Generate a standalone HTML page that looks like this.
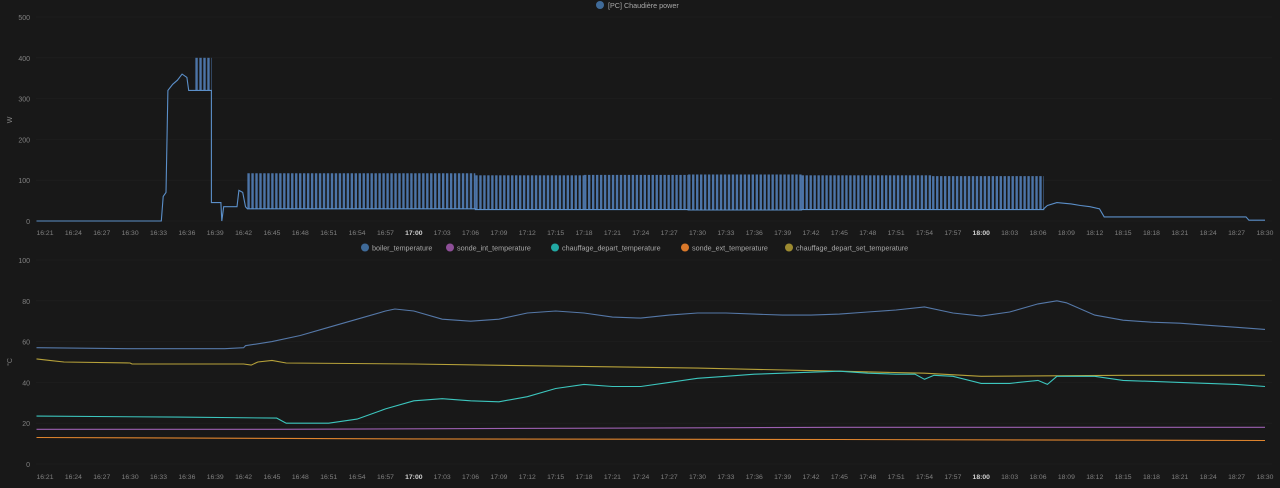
<!DOCTYPE html>
<html><head><meta charset="utf-8">
<style>
html,body{margin:0;padding:0;background:#181818;}
svg{display:block;font-family:"Liberation Sans",sans-serif;}
</style></head>
<body>
<svg id="c" width="1280" height="488" viewBox="0 0 1280 488" xmlns="http://www.w3.org/2000/svg">
<rect width="1280" height="488" fill="#181818"/>
</svg>
<script>
// ---- data ----
const tickLabels=["16:21","16:24","16:27","16:30","16:33","16:36","16:39","16:42","16:45","16:48","16:51","16:54","16:57","17:00","17:03","17:06","17:09","17:12","17:15","17:18","17:21","17:24","17:27","17:30","17:33","17:36","17:39","17:42","17:45","17:48","17:51","17:54","17:57","18:00","18:03","18:06","18:09","18:12","18:15","18:18","18:21","18:24","18:27","18:30"];
const powerTicks=[0,100,200,300,400,500];
const tempTicks=[0,20,40,60,80,100];
// power: [minute since 16:00, W] step points
const powerPts=[[20.1,0],[33.3,0],[33.5,60],[33.8,70],[34,320],[34.5,335],[35,345],[35.5,360],[36,352],[36.2,320],[37,320],[38.6,320],[38.6,45],[39.6,45],[39.7,0],[39.9,35],[41.3,35],[41.5,75],[41.9,70],[42.2,35],[42.4,30]];
// pulse segments: [start min, end min, low W, high W]
const pulseSegs=[[36.9,38.6,320,400],[42.4,66.5,30,117],[66.5,78,28,112],[78,89,28,113],[89,101,27,114],[101,114.8,28,112],[114.8,126.6,28,110]];
const pulsePeriod=0.42;
const powerTail=[[126.6,30],[127,38],[128,45],[129.5,42],[130.5,38],[131.5,35],[132.5,30],[133,10],[148,10],[148.3,2],[150,2]];
// temperatures: [minute since 16:00, °C]
const boiler=[[20.1,57],[30,56.5],[40,56.5],[42,57],[42.2,58],[45,60],[48,63],[51,67],[54,71],[57,75],[58,76],[60,75],[63,71],[66,70],[69,71],[72,74],[75,75],[78,74],[81,72],[84,71.5],[87,73],[90,74],[93,74],[96,73.5],[99,73],[102,73],[105,73.5],[108,74.5],[111,75.5],[114,77],[117,74],[120,72.5],[123,74.5],[126,78.5],[128,80],[129,79],[132,73],[135,70.5],[138,69.5],[141,69],[144,68],[147,67],[150,66]];
const setTemp=[[20.1,51.5],[21.5,50.8],[23,50],[30,49.5],[30.2,49],[42,49],[42.8,48.5],[43.5,50],[45,50.8],[46.5,49.5],[60,49],[75,48],[90,47],[105,45.5],[114,44.5],[120,43],[135,43.5],[150,43.5]];
const departTemp=[[20.1,23.5],[35,23],[45.5,22.5],[46.5,20],[51,20],[54,22],[57,27],[60,31],[63,32],[66,31],[69,30.5],[72,33],[75,37],[78,39],[81,38],[84,38],[87,40],[90,42],[93,43],[96,44],[99,44.5],[105,45.5],[108,44.5],[111,44],[113,44],[114,41.5],[115,43.5],[117,43],[120,39.5],[123,39.5],[126,41],[127,39],[128,43],[132,43],[135,41],[141,40],[147,39],[150,38]];
const intTemp=[[20.1,17],[45,17],[75,17.5],[105,18],[150,18]];
const extTemp=[[20.1,13],[60,12.3],[105,12],[150,11.5]];
const legendNames=["boiler_temperature","sonde_int_temperature","chauffage_depart_temperature","sonde_ext_temperature","chauffage_depart_set_temperature"];

// ---- scales ----
const NS="http://www.w3.org/2000/svg";
const svg=document.getElementById('c');
const xOf=m=>45+(m-21)*9.457;
const yP=v=>221-v*0.408;
const yT=v=>464-v*2.04;
function mk(tag,attrs,parent){const e=document.createElementNS(NS,tag);for(const k in attrs)e.setAttribute(k,attrs[k]);(parent||svg).appendChild(e);return e;}
function txt(s,x,y,anchor,size,fill,weight){const t=mk('text',{x:x,y:y,'text-anchor':anchor,'font-size':size,fill:fill,'font-weight':weight||'normal'});t.textContent=s;return t;}

function axis(ticks,yf,title,ty,labY,name){
  ticks.forEach(v=>{const l=txt(String(v),30,yf(v)+3,'end',7,'#808080');
    
    
    const g=mk('line',{x1:36,x2:1272,y1:yf(v),y2:yf(v),stroke:'#1d1d1d',"stroke-width":1});
    
    });
  const t=txt(title,0,0,'middle',7,'#808080');
  t.setAttribute('transform','translate(12,'+ty+') rotate(-90)');
  
  
  tickLabels.forEach((s,i)=>{const bold=(s==="17:00"||s==="18:00");
    const l=txt(s,xOf(21+i*3),labY,'middle',6.8,bold?'#d0d0d0':'#808080',bold?'bold':'normal');
    
    });
}
axis(powerTicks,yP,'W',120,235,'power');
axis(tempTicks,yT,'°C',362,479,'temp');

// pulse fill bars
pulseSegs.forEach(s=>{let t=s[0];while(t<s[1]){const on=Math.min(t+pulsePeriod*0.6,s[1]);
  const r=mk('rect',{x:xOf(t),y:yP(s[3]),width:Math.max(0.5,xOf(on)-xOf(t)),height:yP(s[2])-yP(s[3]),fill:'#5a8ccc','fill-opacity':0.8});
  
  
  t+=pulsePeriod;}});

// power line: pre-pulse points, pulse baselines (after first burst), tail
let pts=powerPts.slice();
pulseSegs.slice(1).forEach(s=>{pts.push([s[0],s[2]],[s[1],s[2]]);});
pts=pts.concat(powerTail);
let d='';pts.forEach((p,i)=>{d+=(i?'L':'M')+xOf(p[0]).toFixed(1)+' '+yP(p[1]).toFixed(1);});
const pl=mk('path',{d:d,fill:'none',stroke:'#5b8fc9','stroke-width':1.1});



// temperature lines
function line(arr,color,name){let d='';arr.forEach((p,i)=>{d+=(i?'L':'M')+xOf(p[0]).toFixed(1)+' '+yT(p[1]).toFixed(1);});
  const p=mk('path',{d:d,fill:'none',stroke:color,'stroke-width':1.1});
  
  }
line(extTemp,'#e0852e','sonde-ext-line');
line(intTemp,'#9b5fb0','sonde-int-line');
line(setTemp,'#b7a23a','set-temp-line');
line(departTemp,'#3cc6be','depart-temp-line');
line(boiler,'#5578a8','boiler-line');

// legends
const lg=mk('g',{});


mk('circle',{cx:600,cy:5,r:4,fill:'#3f6a98'},lg);
lg.appendChild(txt('[PC] Chaudière power',608,8,'start',7.2,'#a8a8a8'));
const legColors=['#3f6a98','#8e4f98','#22a8a3','#d9782a','#9c8a30'];
const legX=[365,450,555,685,789];
legendNames.forEach((n,i)=>{const g=mk('g',{});
  
  
  mk('circle',{cx:legX[i],cy:247.5,r:4,fill:legColors[i]},g);
  g.appendChild(txt(n,legX[i]+7,250.5,'start',7.2,'#a8a8a8'));});
</script>
</body></html>
